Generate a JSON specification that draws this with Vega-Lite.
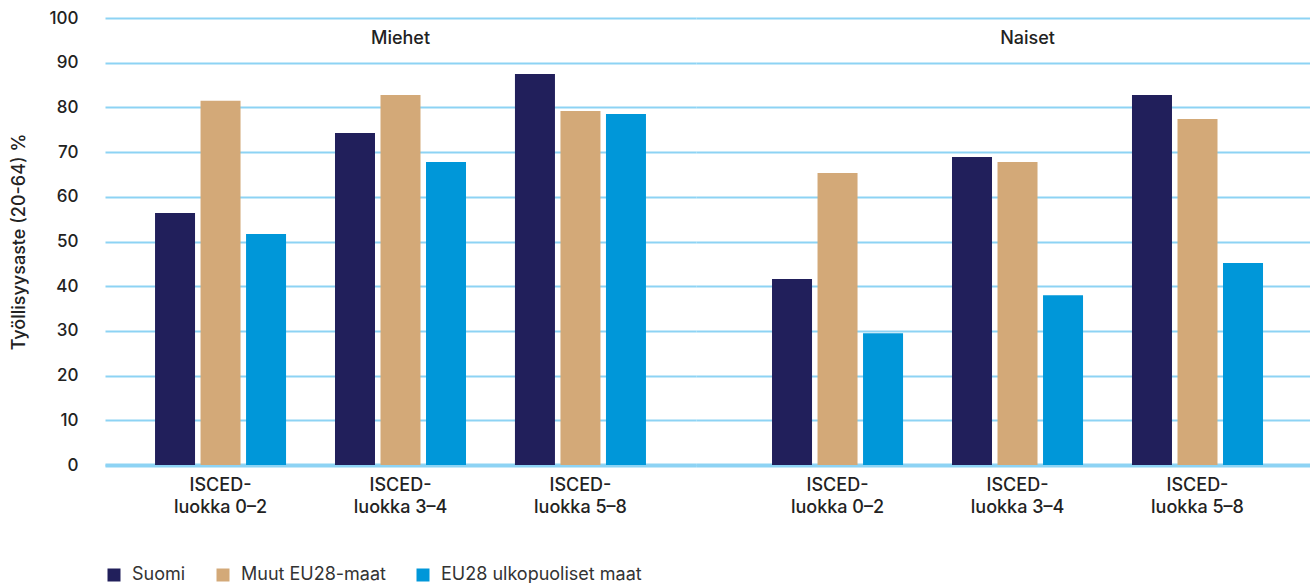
{
  "$schema": "https://vega.github.io/schema/vega-lite/v6.json",
  "padding": {"left": 10, "top": 9, "right": 0, "bottom": 0},
  "background": "white",
  "config": {
    "view": {"stroke": null},
    "font": "Inter",
    "axis": {"labelFont": "Inter", "titleFont": "Inter"},
    "legend": {"labelFont": "Inter"}
  },
  "datasets": {
    "bars": [
      {"group": "Miehet", "cat": "ISCED-luokka 0–2", "series": "Suomi", "value": 56.4},
      {"group": "Miehet", "cat": "ISCED-luokka 0–2", "series": "Muut EU28-maat", "value": 81.5},
      {"group": "Miehet", "cat": "ISCED-luokka 0–2", "series": "EU28 ulkopuoliset maat", "value": 51.7},
      {"group": "Miehet", "cat": "ISCED-luokka 3–4", "series": "Suomi", "value": 74.3},
      {"group": "Miehet", "cat": "ISCED-luokka 3–4", "series": "Muut EU28-maat", "value": 82.8},
      {"group": "Miehet", "cat": "ISCED-luokka 3–4", "series": "EU28 ulkopuoliset maat", "value": 67.8},
      {"group": "Miehet", "cat": "ISCED-luokka 5–8", "series": "Suomi", "value": 87.5},
      {"group": "Miehet", "cat": "ISCED-luokka 5–8", "series": "Muut EU28-maat", "value": 79.2},
      {"group": "Miehet", "cat": "ISCED-luokka 5–8", "series": "EU28 ulkopuoliset maat", "value": 78.5},
      {"group": "Naiset", "cat": "ISCED-luokka 0–2", "series": "Suomi", "value": 41.6},
      {"group": "Naiset", "cat": "ISCED-luokka 0–2", "series": "Muut EU28-maat", "value": 65.3},
      {"group": "Naiset", "cat": "ISCED-luokka 0–2", "series": "EU28 ulkopuoliset maat", "value": 29.5},
      {"group": "Naiset", "cat": "ISCED-luokka 3–4", "series": "Suomi", "value": 68.9},
      {"group": "Naiset", "cat": "ISCED-luokka 3–4", "series": "Muut EU28-maat", "value": 67.8},
      {"group": "Naiset", "cat": "ISCED-luokka 3–4", "series": "EU28 ulkopuoliset maat", "value": 38.0},
      {"group": "Naiset", "cat": "ISCED-luokka 5–8", "series": "Suomi", "value": 82.8},
      {"group": "Naiset", "cat": "ISCED-luokka 5–8", "series": "Muut EU28-maat", "value": 77.4},
      {"group": "Naiset", "cat": "ISCED-luokka 5–8", "series": "EU28 ulkopuoliset maat", "value": 45.2}
    ]
  },
  "spacing": 0,
  "resolve": {"scale": {"x": "independent", "xOffset": "independent", "y": "shared", "color": "shared"}},
  "hconcat": [
    {
      "width": 591,
      "height": 447,
      "layer": [
        {
          "data": {"name": "bars"},
          "transform": [{"filter": "datum.group === 'Miehet'"}],
          "mark": {"type": "bar"},
          "encoding": {
            "x": {
              "field": "cat", "type": "nominal", "sort": null,
              "scale": {"paddingInner": 0.272, "paddingOuter": 0.278},
              "axis": {
                "title": null, "labelAngle": 0, "ticks": false, "grid": false,
                "domainColor": "#8dd3f4", "domainWidth": 4,
                "labelFontSize": 18, "labelFontWeight": 500, "labelColor": "#222222",
                "labelPadding": 11, "labelLineHeight": 22,
                "labelExpr": "['ISCED-', replace(datum.label, 'ISCED-', '')]"
              }
            },
            "xOffset": {
              "field": "series", "type": "nominal",
              "sort": ["Suomi", "Muut EU28-maat", "EU28 ulkopuoliset maat"],
              "scale": {"paddingInner": 0.121, "paddingOuter": 0}
            },
            "y": {
              "field": "value", "type": "quantitative",
              "scale": {"domain": [0, 100]},
              "axis": {
                "title": "Työllisyysaste (20-64) %",
                "values": [0, 10, 20, 30, 40, 50, 60, 70, 80, 90, 100],
                "grid": true, "gridColor": "#8dd3f4", "gridWidth": 2,
                "domain": false, "ticks": false,
                "labelPadding": 27, "labelFontSize": 17, "labelFontWeight": 500, "labelColor": "#222222",
                "titleFontSize": 18, "titleFontWeight": 500, "titleColor": "#222222",
                "titlePadding": 17, "minExtent": 60, "maxExtent": 60
              }
            },
            "color": {
              "field": "series", "type": "nominal",
              "scale": {
                "domain": ["Suomi", "Muut EU28-maat", "EU28 ulkopuoliset maat"],
                "range": ["#211f5b", "#d3a978", "#0097d9"]
              },
              "legend": {
                "title": null, "orient": "bottom", "direction": "horizontal",
                "symbolType": "square", "symbolSize": 169, "symbolStrokeWidth": 0,
                "labelFontSize": 18, "labelColor": "#333333", "labelOffset": 9, "labelLimit": 0,
                "columnPadding": 28, "offset": 50
              }
            }
          }
        },
        {
          "data": {"values": [{"label": "Miehet"}]},
          "mark": {"type": "text", "fontSize": 18, "fontWeight": 500, "color": "#222222", "baseline": "middle", "align": "center"},
          "encoding": {
            "x": {"datum": "ISCED-luokka 3–4", "type": "nominal"},
            "y": {"datum": 95.3, "type": "quantitative"},
            "text": {"field": "label"}
          }
        }
      ]
    },
    {
      "width": 614,
      "height": 447,
      "layer": [
        {
          "data": {"name": "bars"},
          "transform": [{"filter": "datum.group === 'Naiset'"}],
          "mark": {"type": "bar"},
          "encoding": {
            "x": {
              "field": "cat", "type": "nominal", "sort": null,
              "scale": {"paddingInner": 0.272, "paddingOuter": 0.3417, "align": 0.618},
              "axis": {
                "title": null, "labelAngle": 0, "ticks": false, "grid": false,
                "domainColor": "#8dd3f4", "domainWidth": 4,
                "labelFontSize": 18, "labelFontWeight": 500, "labelColor": "#222222",
                "labelPadding": 11, "labelLineHeight": 22,
                "labelExpr": "['ISCED-', replace(datum.label, 'ISCED-', '')]"
              }
            },
            "xOffset": {
              "field": "series", "type": "nominal",
              "sort": ["Suomi", "Muut EU28-maat", "EU28 ulkopuoliset maat"],
              "scale": {"paddingInner": 0.121, "paddingOuter": 0}
            },
            "y": {
              "field": "value", "type": "quantitative",
              "scale": {"domain": [0, 100]},
              "axis": {
                "title": null, "labels": false,
                "values": [0, 10, 20, 30, 40, 50, 60, 70, 80, 90, 100],
                "grid": true, "gridColor": "#8dd3f4", "gridWidth": 2,
                "domain": false, "ticks": false, "minExtent": 0, "maxExtent": 0
              }
            },
            "color": {
              "field": "series", "type": "nominal",
              "scale": {
                "domain": ["Suomi", "Muut EU28-maat", "EU28 ulkopuoliset maat"],
                "range": ["#211f5b", "#d3a978", "#0097d9"]
              }
            }
          }
        },
        {
          "data": {"values": [{"label": "Naiset"}]},
          "mark": {"type": "text", "fontSize": 18, "fontWeight": 500, "color": "#222222", "baseline": "middle", "align": "center", "dx": 10},
          "encoding": {
            "x": {"datum": "ISCED-luokka 3–4", "type": "nominal"},
            "y": {"datum": 95.3, "type": "quantitative"},
            "text": {"field": "label"}
          }
        }
      ]
    }
  ]
}
